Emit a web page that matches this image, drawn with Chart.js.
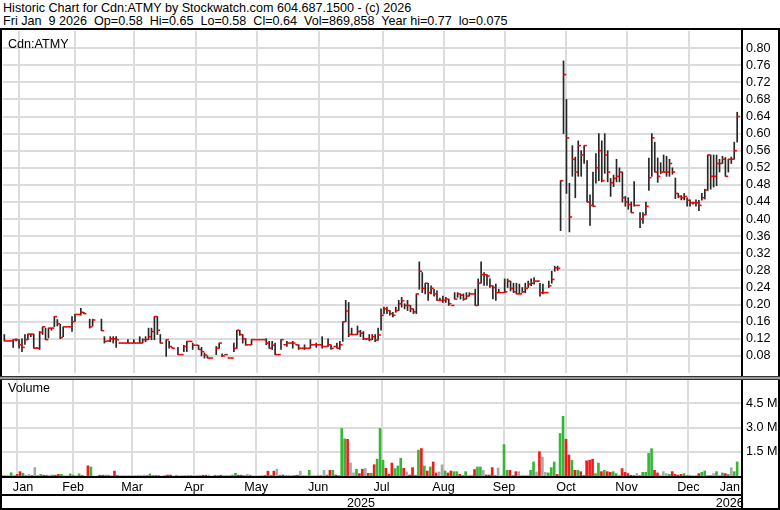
<!DOCTYPE html>
<html>
<head>
<meta charset="utf-8">
<title>Historic Chart for Cdn:ATMY</title>
<script src="https://cdn.jsdelivr.net/npm/chart.js@4.4.1/dist/chart.umd.min.js"></script>
<style>
  body { margin: 0; background: #fff; }
  #wrap { position: relative; width: 780px; height: 510px; overflow: hidden;
          font-family: Arial, "Liberation Sans", sans-serif; font-size: 12.6px; color: #000; }
  .hdr { position: absolute; left: 3px; white-space: pre; line-height: 13px; }
  canvas { position: absolute; left: 0; }
  .ln { position: absolute; background: #000; }
  .tag { position: absolute; left: 8px; line-height: 14px; }
</style>
</head>
<body>
<div id="wrap">
  <div class="hdr" style="top:2px">Historic Chart for Cdn:ATMY by Stockwatch.com 604.687.1500 - (c) 2026</div>
  <div class="hdr" style="top:15px">Fri Jan  9 2026  Op=0.58  Hi=0.65  Lo=0.58  Cl=0.64  Vol=869,858  Year hi=0.77  lo=0.075</div>
  <canvas id="priceChart" width="780" height="348" style="top:28px"></canvas>
  <canvas id="volumeChart" width="780" height="132" style="top:378px"></canvas>
  <div class="tag" style="top:37px">Cdn:ATMY</div>
  <div class="tag" style="top:381px">Volume</div>
  <!-- frame -->
  <div class="ln" style="left:0;top:28px;width:780px;height:2px"></div>
  <div class="ln" style="left:0;top:28px;width:2px;height:482px"></div>
  <div class="ln" style="left:741px;top:28px;width:2px;height:482px"></div>
  <div class="ln" style="left:778px;top:28px;width:2px;height:482px"></div>
  <div class="ln" style="left:0;top:376px;width:780px;height:1px;background:#333"></div>
  <div class="ln" style="left:0;top:377px;width:780px;height:2px;background:#999"></div>
  <div class="ln" style="left:0;top:379px;width:780px;height:1px;background:#333"></div>
  <div class="ln" style="left:0;top:476px;width:743px;height:2px"></div>
  <div class="ln" style="left:0;top:494px;width:743px;height:2px"></div>
  <div class="ln" style="left:0;top:508px;width:780px;height:2px"></div>
</div>
<script>
// daily bars, Jan 2025 -> Jan 9 2026 (null = no trade)
const closes = [
  .115,.115,.115,.118,.118,.106,.10,.118,.131,.131,
  .098,.098,.135,.148,.118,.145,.145,.172,.155,.123,
  .148,.148,.148,.16,.177,.177,.182,.179,null,.148,
  .164,null,null,.139,.114,.115,.12,.12,.118,.11,
  .11,.11,.11,.11,.11,.11,.11,.118,.118,.125,
  .137,.172,.14,.11,null,.118,.102,.098,null,.083,
  .083,.102,.114,.114,.105,.105,.095,.09,.082,.075,
  .075,null,.098,.11,.08,.083,.075,.075,.098,.14,
  .13,.12,.106,.106,.118,.118,.118,.118,.118,.11,
  .098,.105,.083,.083,.118,.106,.11,.11,.11,.106,
  .098,.098,.098,.098,.106,.106,.106,.106,.102,.102,
  .106,.098,.102,.098,.106,.16,.185,.13,.13,.13,
  .137,.133,.12,.12,.118,.125,.117,.129,.175,.19,
  .186,.179,.175,.186,.202,.209,.198,.198,.19,.183,
  .225,.278,.238,.25,.228,.238,.225,.21,.21,.21,
  .213,.202,.198,.213,.225,.222,.213,.22,.225,.225,
  .198,.25,.27,.27,.267,.244,.24,.228,.228,.228,
  .23,.255,.238,.23,.225,.225,.23,.238,.248,.25,
  .255,.255,.228,.228,.228,.244,.259,.286,.285,.49,
  .738,.59,.405,.54,.51,.572,.55,.572,.44,.432,
  .43,.52,.56,.49,.55,.51,.485,.495,.50,.51,
  .45,.44,.434,.415,.432,.432,.40,.41,.43,.497,
  .59,.51,.50,.51,.51,.51,.53,.51,.46,.453,
  .45,.453,.444,.438,.438,.438,.432,.45,.468,.55,
  .50,.50,.53,.53,.54,.50,.54,.54,.56,.64
];
const highs = [
  .13,.115,.115,.118,.12,.118,.12,.13,.131,.131,
  .131,.10,.137,.148,.145,.145,.145,.172,.165,.154,
  .148,.148,.148,.172,.177,.177,.191,.182,null,.166,
  .166,null,null,.166,.125,.115,.125,.125,.125,.11,
  .11,.11,.118,.11,.118,.11,.125,.12,.125,.145,
  .145,.172,.172,.13,null,.118,.114,.10,null,.10,
  .083,.105,.114,.114,.11,.105,.105,.10,.087,.08,
  .075,null,.102,.11,.085,.083,.075,.075,.11,.14,
  .14,.13,.12,.106,.118,.118,.118,.118,.118,.12,
  .114,.114,.11,.083,.118,.106,.114,.11,.114,.106,
  .106,.098,.106,.098,.118,.106,.11,.106,.125,.102,
  .12,.106,.102,.11,.114,.16,.21,.205,.145,.13,
  .15,.14,.137,.12,.13,.13,.13,.145,.19,.194,
  .194,.186,.182,.194,.21,.217,.202,.21,.198,.19,
  .225,.30,.275,.25,.25,.244,.236,.232,.215,.22,
  .217,.213,.198,.228,.228,.225,.225,.228,.228,.225,
  .236,.26,.30,.275,.27,.26,.244,.248,.236,.228,
  .26,.26,.255,.25,.25,.248,.24,.25,.255,.26,
  .263,.255,.25,.248,.228,.255,.278,.29,.29,.49,
  .77,.68,.484,.572,.545,.583,.56,.572,.537,.457,
  .51,.553,.60,.583,.60,.56,.495,.503,.54,.52,
  .51,.453,.45,.44,.488,.432,.415,.415,.44,.543,
  .60,.58,.543,.532,.55,.547,.54,.52,.496,.46,
  .455,.46,.45,.445,.44,.445,.444,.46,.47,.55,
  .55,.55,.55,.54,.547,.544,.54,.545,.58,.65
];
const lows = [
  .115,.115,.115,.10,.115,.098,.09,.107,.118,.125,
  .098,.098,.095,.13,.118,.122,.14,.148,.15,.12,
  .125,.148,.148,.137,.16,.177,.175,.179,null,.145,
  .15,null,null,.139,.11,.115,.113,.11,.10,.11,
  .11,.11,.11,.11,.11,.11,.11,.11,.113,.118,
  .118,.118,.13,.11,null,.079,.098,.098,null,.083,
  .083,.09,.09,.114,.095,.105,.095,.08,.075,.075,
  .075,null,.083,.098,.078,.083,.075,.075,.09,.098,
  .128,.11,.105,.106,.106,.118,.118,.118,.118,.106,
  .098,.095,.083,.083,.095,.106,.102,.11,.098,.106,
  .095,.098,.095,.098,.098,.106,.10,.106,.098,.102,
  .102,.095,.102,.098,.095,.114,.16,.125,.13,.13,
  .13,.125,.118,.118,.115,.118,.113,.117,.14,.179,
  .179,.175,.171,.182,.186,.194,.19,.186,.183,.179,
  .179,.236,.228,.225,.21,.225,.22,.21,.21,.205,
  .205,.198,.198,.213,.217,.213,.21,.213,.22,.225,
  .198,.198,.25,.245,.245,.24,.213,.21,.228,.228,
  .228,.24,.232,.228,.225,.225,.228,.228,.24,.244,
  .248,.255,.22,.225,.228,.24,.25,.278,.28,.373,
  .60,.46,.37,.50,.45,.50,.50,.53,.44,.385,
  .43,.484,.49,.487,.507,.487,.453,.476,.487,.487,
  .44,.43,.423,.415,.43,.432,.38,.39,.41,.467,
  .50,.51,.486,.506,.51,.50,.50,.505,.448,.45,
  .445,.445,.43,.43,.435,.43,.42,.444,.447,.467,
  .47,.475,.478,.51,.53,.50,.51,.53,.54,.58
];
// volume, millions of shares
const volumes = [
  .05,.04,.03,.2,.04,.1,.27,.17,.03,.1,
  .03,.52,.03,.1,.05,.05,.05,.06,.05,.1,
  .1,.03,.02,.13,.06,.02,.13,.03,0,.63,
  .56,0,0,.05,.05,.05,.05,.02,.3,.03,
  .02,.03,.03,.03,.03,.03,.05,.02,.06,.04,
  .13,.03,.03,.02,0,.03,.06,.06,0,.02,
  .02,.02,.02,.05,.02,.02,.01,.02,.05,.05,
  .06,0,.05,.03,.05,.02,.01,.04,.06,.17,
  .05,.05,.02,.1,.05,.02,.02,.02,.03,.03,
  .3,.05,.3,.42,.05,.06,.03,.05,.03,.03,
  .05,.3,.03,.03,.35,.02,.03,.06,.02,.35,
  .06,.35,.35,.06,.03,2.94,2.3,2.27,.81,.2,
  .42,.15,.42,.46,.17,.17,.7,1.04,2.94,.98,
  .48,.1,.8,.46,.62,1.1,.48,.25,.06,.52,
  .05,1.6,1.7,.62,.31,.56,.87,.19,.25,.69,
  .31,.19,.31,.27,.27,.1,.02,.27,.02,.05,
  .4,.56,.56,.35,.06,.06,.52,.02,.5,.02,
  1.94,.35,.35,.02,.27,.27,.02,.02,.02,.35,
  .87,.25,1.5,1.17,.23,.19,.52,.87,.1,2.63,
  3.69,2.27,1.3,.98,.35,.35,.27,.04,.94,.98,
  1.04,.15,.8,.27,.35,.27,.23,.27,.15,.02,
  .46,.23,.15,.04,.04,.15,.02,.23,.23,1.4,
  1.69,.35,.19,.02,.27,.15,.1,.27,.1,.06,
  .1,.15,.02,.02,.02,.04,.15,.23,.31,.02,
  .02,.15,.27,.04,.19,.15,.1,.52,.27,.87
];

const monthLabels = ['Jan', 'Feb', 'Mar', 'Apr', 'May', 'Jun', 'Jul', 'Aug', 'Sep', 'Oct', 'Nov', 'Dec', 'Jan'];
const monthStarts = [0, 15, 34, 55, 76, 97, 118, 140, 160, 181, 202, 222, 244]; // first bar of each month
const yearLabels = ['2025', '2026'];
const yearStarts = [0, 244];
const priceTicks = [0.08, 0.12, 0.16, 0.20, 0.24, 0.28, 0.32, 0.36, 0.40, 0.44, 0.48, 0.52, 0.56, 0.60, 0.64, 0.68, 0.72, 0.76, 0.80];
const volumeTicks = [1.5, 3.0, 4.5];

const n = closes.length;
const xMin = -0.45, xMax = n + 0.3;
const gridColor = '#dcdcdc';

Chart.defaults.font.family = 'Arial, "Liberation Sans", sans-serif';
Chart.defaults.font.size = 12.6;
Chart.defaults.color = '#000';

// month boundaries and label centres, in bar units
const monthLines = monthStarts.slice(1).map(s => s - 0.5);
const spanCentre = (starts, i) => ((i === 0 ? -0.5 : starts[i] - 0.5) + (i === starts.length - 1 ? n - 0.5 : starts[i + 1] - 0.5)) / 2;
const monthCentres = monthStarts.map((s, i) => spanCentre(monthStarts, i));
const yearCentres = yearStarts.map((s, i) => spanCentre(yearStarts, i));

// volume colour: up green, down red, unchanged grey
const volColors = closes.map((c, i) => {
  let prev = null;
  for (let j = i - 1; j >= 0; j--) { if (closes[j] !== null) { prev = closes[j]; break; } }
  if (c === null || prev === null || c === prev) return '#a8a8a8';
  return c > prev ? '#35b735' : '#f01c1c';
});

// keep chart areas fixed: no extra room for edge labels
function noPad(s) { s.paddingTop = 0; s.paddingBottom = 0; s.paddingLeft = 0; s.paddingRight = 0; }

const monthGridAxis = {
  type: 'linear', min: xMin, max: xMax, offset: false,
  afterBuildTicks: s => { s.ticks = monthLines.map(v => ({ value: v })); },
  afterFit: s => { s.height = 0; noPad(s); },
  ticks: { display: false },
  grid: { color: gridColor, lineWidth: 2, drawTicks: false },
  border: { display: false }
};

new Chart(document.getElementById('priceChart'), {
  type: 'bar',
  data: {
    datasets: [
      {
        type: 'bar',
        data: highs.map((h, i) => ({ x: i, y: h === null ? null : [lows[i], h] })),
        backgroundColor: '#262626',
        barThickness: 1,
        order: 2
      },
      {
        type: 'scatter',
        data: closes.map((c, i) => ({ x: i + 0.45, y: c })),
        pointStyle: 'line',
        pointRadius: 1.4,
        pointHoverRadius: 1.4,
        pointBorderColor: '#ff0000',
        pointBorderWidth: 1.6,
        order: 1
      }
    ]
  },
  options: {
    responsive: false,
    animation: false,
    events: [],
    layout: { padding: { left: 1 } },
    plugins: { legend: { display: false }, tooltip: { enabled: false } },
    scales: {
      x: monthGridAxis,
      y: {
        position: 'right', min: 0.04, max: 0.84,
        afterBuildTicks: s => { s.ticks = priceTicks.map(v => ({ value: v })); },
        afterFit: s => { s.width = 39; noPad(s); },
        ticks: { padding: 5, callback: v => v.toFixed(2) },
        grid: { color: gridColor, lineWidth: 2, drawTicks: false },
        border: { display: false }
      }
    }
  }
});

new Chart(document.getElementById('volumeChart'), {
  type: 'bar',
  data: {
    datasets: [{
      data: volumes.map((v, i) => ({ x: i, y: v })),
      backgroundColor: volColors,
      barThickness: 2
    }]
  },
  options: {
    responsive: false,
    animation: false,
    events: [],
    layout: { padding: { left: 1, top: 1, bottom: 1 } },
    plugins: { legend: { display: false }, tooltip: { enabled: false } },
    scales: {
      x: Object.assign({}, monthGridAxis, { weight: 0 }),
      months: {
        type: 'linear', position: 'bottom', weight: 1, min: xMin, max: xMax, offset: false,
        afterBuildTicks: s => { s.ticks = monthCentres.map(v => ({ value: v })); },
        afterFit: s => { s.height = 19; noPad(s); },
        ticks: { autoSkip: false, maxRotation: 0, padding: 4, callback: (v, i) => monthLabels[i] },
        grid: { display: false, drawTicks: false },
        border: { display: false }
      },
      years: {
        type: 'linear', position: 'bottom', weight: 2, min: xMin, max: xMax, offset: false,
        afterBuildTicks: s => { s.ticks = yearCentres.map(v => ({ value: v })); },
        afterFit: s => { s.height = 14; noPad(s); },
        ticks: { autoSkip: false, maxRotation: 0, padding: 1, callback: (v, i) => yearLabels[i] },
        grid: { display: false, drawTicks: false },
        border: { display: false }
      },
      y: {
        position: 'right', min: 0, max: 6,
        afterBuildTicks: s => { s.ticks = volumeTicks.map(v => ({ value: v })); },
        afterFit: s => { s.width = 39; noPad(s); },
        ticks: { padding: 5, callback: v => v.toFixed(1) + ' M' },
        grid: { color: gridColor, lineWidth: 2, drawTicks: false },
        border: { display: false }
      }
    }
  }
});
</script>
</body>
</html>
